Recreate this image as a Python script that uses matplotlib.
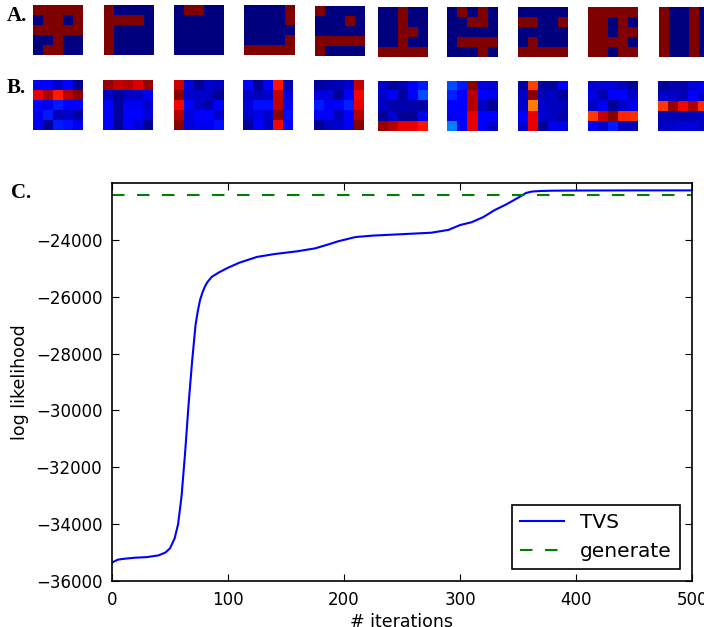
import numpy as np
import matplotlib
matplotlib.use("Agg")
import matplotlib.pyplot as plt

# ---------------- data ----------------
# Row A: binary 5x5 patterns (1 = red, 0 = blue)
patterns_a = [
    [[1,1,1,1,1],[0,1,1,0,1],[1,1,1,1,1],[0,0,1,0,0],[0,1,1,0,0]],
    [[1,0,0,0,0],[1,1,1,1,0],[1,0,0,0,0],[1,0,0,0,0],[1,0,0,0,0]],
    [[0,1,1,0,0],[0,0,0,0,0],[0,0,0,0,0],[0,0,0,0,0],[0,0,0,0,0]],
    [[0,0,0,0,1],[0,0,0,0,1],[0,0,0,0,0],[0,0,0,0,1],[1,1,1,1,1]],
    [[1,0,0,0,0],[0,0,0,1,0],[0,0,0,0,0],[1,1,1,1,1],[1,0,0,0,0]],
    [[0,0,1,0,0],[0,0,1,0,0],[0,0,1,1,0],[0,0,1,0,0],[1,1,1,1,1]],
    [[0,1,0,1,0],[0,0,1,1,0],[0,0,0,0,0],[0,1,1,1,1],[0,0,0,1,0]],
    [[0,0,0,0,0],[1,1,0,0,1],[0,0,0,0,0],[0,1,0,0,0],[1,1,1,1,1]],
    [[1,1,1,1,1],[1,1,0,1,0],[1,1,0,1,1],[1,1,1,1,0],[1,1,0,1,1]],
    [[1,0,0,1,0],[1,0,0,1,0],[1,0,0,1,0],[1,0,0,1,0],[1,0,0,1,0]],
]

# Row B: learned (continuous) 5x5 patterns
patterns_b = [
    [[0.10,0.12,0.07,0.12,0.02],[0.91,0.96,0.88,0.95,0.99],[0.11,0.09,0.15,0.12,0.12],
     [0.10,0.15,0.05,0.07,0.03],[0.10,0.02,0.15,0.14,0.10]],
    [[0.98,0.94,0.95,0.92,0.98],[0.06,0.03,0.06,0.06,0.10],[0.11,0.03,0.10,0.10,0.07],
     [0.11,0.03,0.12,0.12,0.08],[0.11,0.02,0.12,0.08,0.02]],
    [[0.93,0.08,0.02,0.07,0.06],[0.99,0.07,0.07,0.06,0.02],[0.90,0.12,0.06,0.04,0.12],
     [0.95,0.08,0.12,0.12,0.07],[0.99,0.08,0.10,0.10,0.14]],
    [[0.13,0.02,0.12,0.89,0.05],[0.07,0.05,0.07,0.94,0.08],[0.08,0.14,0.14,0.94,0.10],
     [0.07,0.09,0.07,0.99,0.14],[0.03,0.12,0.06,0.90,0.12]],
    [[0.03,0.04,0.05,0.07,0.94],[0.08,0.08,0.02,0.12,0.90],[0.15,0.10,0.12,0.16,0.91],
     [0.12,0.12,0.05,0.11,0.95],[0.02,0.06,0.07,0.10,0.99]],
    [[0.07,0.03,0.05,0.12,0.15],[0.07,0.11,0.03,0.12,0.20],[0.06,0.04,0.04,0.04,0.04],
     [0.02,0.07,0.02,0.02,0.10],[0.98,0.95,0.91,0.91,0.89]],
    [[0.20,0.15,0.99,0.08,0.08],[0.16,0.12,0.95,0.11,0.10],[0.12,0.12,0.95,0.06,0.02],
     [0.10,0.11,0.91,0.12,0.12],[0.25,0.12,0.91,0.12,0.06]],
    [[0.03,0.84,0.03,0.03,0.12],[0.06,0.99,0.05,0.06,0.03],[0.07,0.78,0.07,0.06,0.05],
     [0.12,0.91,0.07,0.06,0.04],[0.07,0.91,0.02,0.09,0.09]],
    [[0.07,0.08,0.08,0.06,0.03],[0.09,0.04,0.12,0.11,0.07],[0.06,0.10,0.02,0.07,0.09],
     [0.85,0.94,0.99,0.87,0.86],[0.12,0.07,0.15,0.06,0.05]],
    [[0.03,0.04,0.04,0.08,0.10],[0.07,0.07,0.05,0.12,0.07],[0.85,0.98,0.90,0.96,0.86],
     [0.05,0.05,0.04,0.05,0.06],[0.06,0.07,0.08,0.08,0.06]],
]

# Panel C: log likelihood vs iterations
iterations = [0, 5, 10, 20, 30, 40, 46, 50, 54, 57, 60, 63, 66, 69, 72, 74, 76, 78,
              80, 82, 86, 92, 100, 110, 125, 140, 160, 175, 185, 195, 200, 210,
              225, 250, 275, 290, 300, 310, 320, 330, 340, 350, 357, 362, 370,
              380, 400, 450, 500]
tvs = [-35350, -35250, -35220, -35180, -35160, -35100, -35000, -34850, -34500,
       -34000, -33000, -31500, -29800, -28300, -27000, -26500, -26100, -25850,
       -25650, -25500, -25300, -25150, -24980, -24800, -24600, -24500, -24400,
       -24300, -24180, -24050, -24000, -23900, -23850, -23800, -23750, -23650,
       -23480, -23380, -23200, -22950, -22750, -22520, -22350, -22300, -22280,
       -22270, -22265, -22260, -22260]
generate_level = -22420

ytick_vals = [-36000, -34000, -32000, -30000, -28000, -26000, -24000]
xtick_vals = [0, 100, 200, 300, 400, 500]

# ---------------- figure ----------------
W, H = 704, 627
fig = plt.figure(figsize=(W / 100, H / 100), dpi=100)


def px_axes(x, y, w, h):
    return fig.add_axes([x / W, 1 - (y + h) / H, w / W, h / H])


a_x = [33, 104, 174, 244, 315, 378, 447, 518, 588, 659]
a_y = [5, 5, 5, 5, 6, 7, 7, 7, 7, 7]
b_x = [33, 103, 174, 243, 314, 378, 447, 518, 588, 658]
b_y = [80, 80, 80, 80, 80, 81, 81, 81, 81, 81]

for i, p in enumerate(patterns_a):
    ax = px_axes(a_x[i], a_y[i], 50, 50)
    ax.imshow(np.array(p, dtype=float), cmap="jet", vmin=0, vmax=1,
              interpolation="nearest")
    ax.axis("off")

for i, p in enumerate(patterns_b):
    ax = px_axes(b_x[i], b_y[i], 50, 50)
    ax.imshow(np.array(p, dtype=float), cmap="jet", vmin=0, vmax=1,
              interpolation="nearest")
    ax.axis("off")

serif = ["Liberation Serif", "DejaVu Serif"]
fig.text(7 / W, 1 - 16 / H, "A.", fontsize=15, fontweight="bold", family=serif, va="center")
fig.text(7 / W, 1 - 88 / H, "B.", fontsize=15, fontweight="bold", family=serif, va="center")
fig.text(11 / W, 1 - 193 / H, "C.", fontsize=15, fontweight="bold", family=serif, va="center")

ax = px_axes(112, 183, 580, 398)
ax.plot(iterations, tvs, color="blue", lw=1.5, label="TVS")
ax.axhline(generate_level, color="green", lw=1.5, ls=(0, (6, 6)), label="generate")
ax.set_xlim(0, 500)
ax.set_ylim(-36000, -22000)
ax.set_xticks(xtick_vals)
ax.set_yticks(ytick_vals)
ax.set_yticklabels([f"\u2212{abs(v)}" for v in ytick_vals])
ax.tick_params(direction="in", top=True, right=True, labelsize=12,
               length=5, width=0.8, pad=7)
for s in ax.spines.values():
    s.set_linewidth(1.2)
ax.set_xlabel("# iterations", fontsize=12.5, labelpad=3)
ax.set_ylabel("log likelihood", fontsize=12.5)
ax.yaxis.set_label_coords(-0.143, 0.5)
leg = ax.legend(loc="lower right", fontsize=14.5, fancybox=False,
                edgecolor="black", framealpha=1, handlelength=2.2,
                borderaxespad=0.6, labelspacing=0.5)
leg.get_frame().set_linewidth(1.2)

fig.savefig("out.png", dpi=100)
